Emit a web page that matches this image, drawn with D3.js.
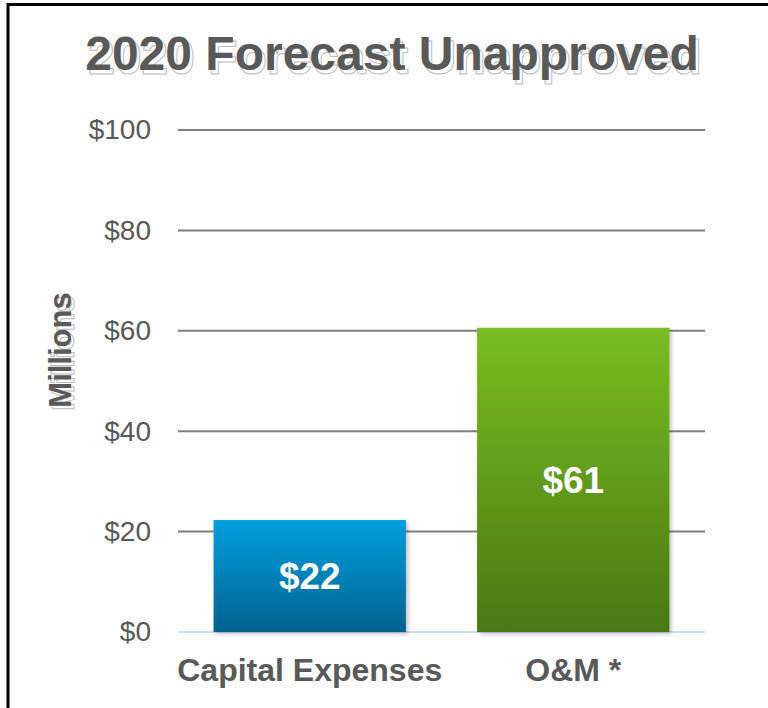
<!DOCTYPE html>
<html>
<head>
<meta charset="utf-8">
<script src="https://cdn.jsdelivr.net/npm/d3@7"></script>
<style>
  body { margin: 0; background: #fff; }
  svg { display: block; font-family: "Liberation Sans", Arial, sans-serif; }
</style>
</head>
<body>
<div id="chart"></div>
<script>
// chart data
const categories = ["Capital Expenses", "O&M *"];
const values = [22.3, 60.6];
const valueLabels = ["$22", "$61"];
const yTicks = [0, 20, 40, 60, 80, 100];
const titleText = "2020 Forecast Unapproved";
const yLabel = "Millions";

const W = 768, H = 708;
const svg = d3.select("#chart").append("svg")
    .attr("width", W)
    .attr("height", H);

const defs = svg.append("defs");

// bar gradients
const grads = [
    { id: "gBlue", top: "#00a0e0", bottom: "#00628f" },
    { id: "gGreen", top: "#79be21", bottom: "#4a7813" }
];
grads.forEach(g => {
    const lg = defs.append("linearGradient")
        .attr("id", g.id)
        .attr("x1", 0).attr("y1", 0).attr("x2", 0).attr("y2", 1);
    lg.append("stop").attr("offset", "0%").attr("stop-color", g.top);
    lg.append("stop").attr("offset", "100%").attr("stop-color", g.bottom);
});

// soft shadow for bars
const f = defs.append("filter").attr("id", "shadow")
    .attr("x", "-10%").attr("y", "-10%").attr("width", "130%").attr("height", "130%");
f.append("feDropShadow")
    .attr("dx", 2).attr("dy", 2).attr("stdDeviation", 2)
    .attr("flood-color", "#000").attr("flood-opacity", 0.25);

// frame (only top and left edges visible)
svg.append("path")
    .attr("d", `M8,${H} L8,4.5 L${W},4.5`)
    .attr("fill", "none")
    .attr("stroke", "#000")
    .attr("stroke-width", 3);

// scales
const x = d3.scaleBand()
    .domain(categories)
    .range([178, 705])
    .paddingInner(0.27)
    .paddingOuter(0.135);

const y = d3.scaleLinear()
    .domain([0, 100])
    .range([632, 130]);

// gridlines
svg.append("g")
    .selectAll("line")
    .data(yTicks.filter(d => d > 0))
    .enter()
    .append("line")
    .attr("x1", 178).attr("x2", 705)
    .attr("y1", d => y(d)).attr("y2", d => y(d))
    .attr("stroke", "#7f7f7f")
    .attr("stroke-width", 2);

// baseline
svg.append("line")
    .attr("x1", 178).attr("x2", 705)
    .attr("y1", y(0)).attr("y2", y(0))
    .attr("stroke", "#d3e1f3")
    .attr("stroke-width", 2);

// y axis tick labels
const yAxis = svg.append("g")
    .attr("transform", "translate(151,0)")
    .call(d3.axisLeft(y).tickValues(yTicks).tickSize(0).tickPadding(0)
        .tickFormat(d => "$" + d));
yAxis.select(".domain").remove();
yAxis.selectAll("text")
    .attr("fill", "#595959")
    .style("font-size", "28px")
    .style("font-family", "'Liberation Sans', Arial, sans-serif");

// bars
svg.append("g")
    .selectAll("rect")
    .data(values)
    .enter()
    .append("rect")
    .attr("x", (d, i) => x(categories[i]))
    .attr("y", d => y(d))
    .attr("width", x.bandwidth())
    .attr("height", d => y(0) - y(d))
    .attr("fill", (d, i) => `url(#${grads[i].id})`)
    .attr("filter", "url(#shadow)");

// value labels inside bars
svg.append("g")
    .selectAll("text")
    .data(values)
    .enter()
    .append("text")
    .attr("x", (d, i) => x(categories[i]) + x.bandwidth() / 2)
    .attr("y", d => (y(d) + y(0)) / 2 + 13)
    .attr("text-anchor", "middle")
    .attr("fill", "#fff")
    .style("font-size", "37px")
    .style("font-weight", "bold")
    .text((d, i) => valueLabels[i]);

// category labels
svg.append("g")
    .selectAll("text")
    .data(categories)
    .enter()
    .append("text")
    .attr("x", d => x(d) + x.bandwidth() / 2)
    .attr("y", 681)
    .attr("text-anchor", "middle")
    .attr("fill", "#595959")
    .style("font-size", "32px")
    .style("font-weight", "bold")
    .text(d => d);

// text with outlined offset shadow
function shadowText(g, txt, size, dx, dy) {
    g.append("text")
        .attr("x", dx).attr("y", dy)
        .attr("text-anchor", "middle")
        .attr("fill", "#fff")
        .attr("stroke", "#bdbdbd")
        .attr("stroke-width", 1)
        .style("font-size", size)
        .style("font-weight", "bold")
        .text(txt);
    g.append("text")
        .attr("x", 0).attr("y", 0)
        .attr("text-anchor", "middle")
        .attr("fill", "#595959")
        .style("font-size", size)
        .style("font-weight", "bold")
        .text(txt);
}

shadowText(svg.append("g").attr("transform", "translate(392,70)"),
    titleText, "48px", 3, 4);

shadowText(svg.append("g").attr("transform", "translate(71,350) rotate(-90)"),
    yLabel, "31px", -3, 3);
</script>
</body>
</html>
